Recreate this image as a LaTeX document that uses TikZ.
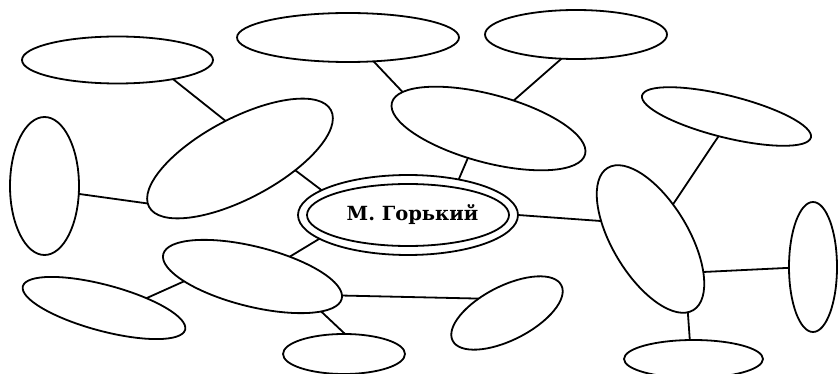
\documentclass[tikz,border=0pt]{standalone}
\usepackage{fontspec}
\newfontfamily\labelfont{DejaVu Serif}
\usetikzlibrary{shapes.geometric}
\begin{document}
\begin{tikzpicture}[x=1pt,y=-1pt,
  ell/.style={ellipse,draw=black,line width=1.8pt,inner sep=0pt,outer sep=0pt,fill=white},
  link/.style={draw=black,line width=1.8pt},
  lbl/.style={inner sep=0pt,font=\labelfont\bfseries\fontsize{19.5}{19.5}\selectfont}]
\useasboundingbox (0,0) rectangle (838,374);
\node[ell,minimum width=191,minimum height=47] (A) at (117.5,60) {};
\node[ell,minimum width=69,minimum height=138] (B) at (44.5,186) {};
\node[ell,minimum width=206,minimum height=80,rotate=28] (C) at (240,158.5) {};
\node[ell,minimum width=220,minimum height=80] (D) at (408,215) {};
\node[ell,minimum width=202,minimum height=62] (Din) at (408,215) {};
\node[lbl,anchor=base] (Dl) at (412.5,221) {М. Горький};
\node[ell,minimum width=222,minimum height=49] (E) at (348,37.5) {};
\node[ell,minimum width=182,minimum height=49] (F) at (576,34.5) {};
\node[ell,minimum width=200,minimum height=68,rotate=-15] (G) at (488.5,128.5) {};
\node[ell,minimum width=174,minimum height=42,rotate=-14] (H) at (726.5,116.5) {};
\node[ell,minimum width=166,minimum height=76,rotate=-59] (I) at (650.5,239) {};
\node[ell,minimum width=48,minimum height=130] (J) at (813,267) {};
\node[ell,minimum width=184,minimum height=60,rotate=-14] (K) at (252.5,276.5) {};
\node[ell,minimum width=168,minimum height=46,rotate=-15] (L) at (104,308) {};
\node[ell,minimum width=122,minimum height=40] (M) at (344,354) {};
\node[ell,minimum width=122,minimum height=54,rotate=27] (N) at (507,313) {};
\node[ell,minimum width=139,minimum height=38] (O) at (693.5,359) {};
\draw[link] (A.-19) -- (C.83);
\draw[link] (B.-13) -- (C.178);
\draw[link] (C.-40) -- (D.164);
\draw[link] (D.195) -- (K.42);
\draw[link] (K.198) -- (L.28);
\draw[link] (K.-13) -- (M.87);
\draw[link] (K.2) -- (N.126);
\draw[link] (E.-43) -- (G.172);
\draw[link] (F.239) -- (G.63);
\draw[link] (G.250) -- (D.35);
\draw[link] (D.0) -- (I.219);
\draw[link] (H.262) -- (I.116);
\draw[link] (I.27) -- (J.182);
\draw[link] (I.-4) -- (O.101);
\end{tikzpicture}
\end{document}
